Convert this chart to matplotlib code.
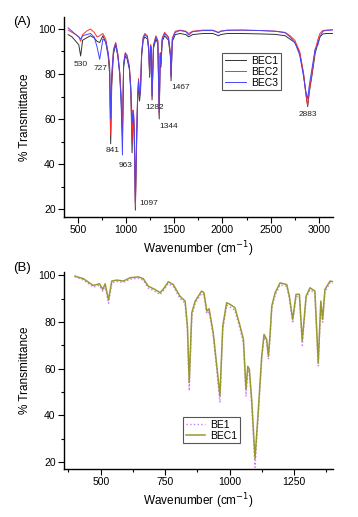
import matplotlib
matplotlib.use("Agg")
import matplotlib.pyplot as plt
from matplotlib.ticker import MultipleLocator

plt.rcParams["font.family"] = ["Liberation Sans", "DejaVu Sans"]

# ---- panel (A): FTIR spectra of BEC1 / BEC2 / BEC3 ----
wn_a = [400, 440, 480, 510, 530, 550, 590, 630, 670, 700, 727, 760, 790, 815, 830,
        841, 852, 870, 893, 915, 935, 950, 963, 975, 992, 1010, 1035, 1050, 1063,
        1072, 1080, 1088, 1097, 1108, 1120, 1130, 1140, 1150, 1162, 1178, 1195, 1222,
        1235, 1245, 1255, 1262, 1270, 1285, 1310, 1330, 1344, 1355, 1362, 1375, 1400,
        1440, 1460, 1467, 1480, 1510, 1560, 1620, 1650, 1690, 1800, 1900, 1960, 1980,
        2050, 2200, 2400, 2550, 2650, 2700, 2750, 2800, 2840, 2865, 2883, 2900, 2930,
        2960, 2990, 3010, 3040, 3080, 3140]
bec1_a = [97.5, 96.5, 94.5, 93.0, 88.0, 95.0, 96.0, 97.0, 96.0, 94.5, 94.0, 97.0, 94.0, 88.0, 80.0,
          49.0, 75.0, 89.0, 93.0, 88.0, 80.0, 68.0, 52.0, 83.0, 88.0, 87.0, 82.0, 72.0, 45.0,
          62.0, 60.0, 45.0, 19.5, 45.0, 68.0, 76.0, 68.0, 72.0, 88.0, 95.0, 96.5, 95.5,
          90.5, 78.5, 91.5, 90.5, 68.5, 91.5, 95.5, 93.5, 60.0, 88.0, 83.0, 94.5, 97.0,
          95.0, 88.0, 77.0, 94.5, 97.5, 98.0, 97.5, 96.5, 97.5, 98.0, 98.0, 97.0, 97.5,
          98.0, 98.0, 97.8, 97.6, 97.0, 95.5, 94.0, 89.5, 80.0, 71.0, 65.5, 72.0, 80.0,
          89.0, 94.0, 96.5, 97.8, 98.0, 98.0]
bec2_a = [99.5, 98.5, 97.5, 96.5, 94.5, 97.5, 99.0, 100.0, 98.5, 96.5, 97.0, 98.0, 95.5, 89.0, 82.0,
          53.0, 78.0, 91.0, 94.0, 89.0, 81.0, 70.0, 55.0, 85.0, 89.5, 88.5, 83.5, 74.0, 50.0,
          64.0, 62.0, 48.0, 21.0, 47.0, 70.0, 78.0, 70.0, 74.0, 89.5, 96.5, 98.0, 97.0,
          92.0, 80.0, 93.0, 92.0, 70.0, 93.0, 97.0, 95.0, 62.0, 89.5, 85.0, 96.0, 98.5,
          96.5, 89.5, 79.0, 96.0, 99.0, 99.5, 99.0, 98.0, 99.0, 99.5, 99.5, 98.5, 99.0,
          99.5, 99.5, 99.3, 99.0, 98.5, 97.0, 95.0, 90.0, 80.5, 71.0, 66.0, 72.5, 81.0,
          90.5, 95.5, 98.0, 99.3, 99.5, 99.6]
bec3_a = [100.5, 99.0, 97.5, 96.5, 95.5, 97.0, 97.5, 98.0, 96.5, 92.0, 86.5, 95.5, 94.5, 89.5, 84.0,
          60.0, 80.0, 90.0, 93.5, 88.5, 80.0, 66.0, 44.0, 84.0, 89.0, 88.0, 83.0, 73.0, 58.0,
          63.0, 61.0, 50.0, 23.0, 50.0, 70.0, 77.0, 70.0, 73.0, 89.0, 96.0, 97.5, 96.5,
          91.5, 79.5, 92.5, 91.5, 70.5, 92.5, 96.5, 94.5, 63.0, 89.0, 84.5, 95.5, 98.0,
          96.0, 89.0, 79.0, 95.5, 98.5, 99.3, 98.8, 97.3, 98.8, 99.3, 99.3, 98.3, 99.0,
          99.4, 99.5, 99.3, 99.0, 98.3, 96.5, 94.0, 88.5, 79.0, 72.0, 69.0, 75.0, 83.0,
          91.0, 93.0, 96.5, 99.0, 99.4, 99.6]

peak_labels = ["530", "727", "841", "963", "1097", "1282", "1344", "1467", "2883"]
peak_x = [527, 739, 858, 993, 1239, 1294, 1439, 1571, 2890]
peak_y = [84.3, 82.5, 45.9, 39.2, 22.5, 65.0, 56.6, 73.9, 61.8]

# ---- panel (B): BE1 vs BEC1 ----
wn_b = [400, 433, 471, 495, 508, 517, 530, 543, 562, 588, 614, 646, 665, 684, 710,
        730, 745, 762, 781, 807, 827, 836, 843, 853, 866, 891, 900, 911, 920, 936,
        950, 962, 973, 988, 1001, 1020, 1040, 1053, 1059, 1063, 1070, 1076, 1085,
        1098, 1111, 1124, 1133, 1143, 1150, 1156, 1163, 1176, 1195, 1221, 1231, 1244,
        1257, 1270, 1281, 1296, 1311, 1330, 1343, 1353, 1360, 1369, 1389, 1400]
bec1_b = [99.7, 98.6, 95.7, 96.4, 94.0, 96.4, 89.5, 97.6, 98.0, 97.6, 99.0, 99.4, 98.6, 95.4, 94.0,
          92.6, 94.5, 97.3, 96.1, 91.1, 89.0, 78.3, 54.0, 84.0, 89.0, 93.3, 92.6, 84.7, 85.7, 75.4,
          61.0, 48.3, 78.3, 88.3, 87.6, 86.2, 78.3, 72.6, 59.7, 51.1, 61.0, 59.7, 46.9,
          21.4, 42.6, 65.4, 74.7, 72.6, 65.4, 74.0, 86.9, 92.6, 96.8, 96.1, 91.1, 81.1,
          91.9, 91.9, 71.9, 91.1, 94.7, 93.3, 62.6, 89.0, 81.1, 94.0, 97.6, 97.3]
be1_b = [99.5, 98.0, 95.0, 95.7, 93.2, 95.7, 88.0, 96.8, 97.4, 97.0, 98.4, 98.8, 97.9, 94.6, 93.2,
         91.8, 93.7, 96.5, 95.3, 90.2, 88.0, 76.5, 50.5, 82.5, 88.0, 92.3, 91.6, 83.5, 84.5, 74.0,
         59.0, 45.4, 76.5, 87.2, 86.5, 85.0, 77.0, 71.0, 57.5, 48.0, 59.5, 58.0, 44.5,
         17.7, 40.5, 64.0, 73.5, 71.4, 64.0, 73.0, 85.8, 91.6, 95.9, 95.3, 90.2, 79.5,
         90.9, 91.0, 70.0, 90.2, 93.8, 92.4, 61.0, 88.0, 80.0, 93.0, 96.9, 96.6]


def style_axes(ax):
    for side in ("top", "right"):
        ax.spines[side].set_visible(False)
    for side in ("left", "bottom"):
        ax.spines[side].set_linewidth(1.0)
    ax.tick_params(which="major", direction="out", length=4, width=0.8, labelsize=7.5, pad=2)
    ax.tick_params(which="minor", direction="out", length=2.5, width=0.8)
    ax.yaxis.set_major_locator(MultipleLocator(20))
    ax.yaxis.set_minor_locator(MultipleLocator(10))
    ax.set_xlabel("Wavenumber (cm$^{-1}$)", fontsize=8.5, labelpad=3)
    ax.set_ylabel("% Transmittance", fontsize=8.5, labelpad=5)


fig = plt.figure(figsize=(3.58, 5.17), dpi=100)

# panel A
ax1 = fig.add_axes([0.179, 0.580, 0.751, 0.387])
ax1.plot(wn_a, bec1_a, color="#333333", lw=0.7, label="BEC1")
ax1.plot(wn_a, bec2_a, color="#ff3030", lw=0.7, label="BEC2")
ax1.plot(wn_a, bec3_a, color="#4646ff", lw=0.7, label="BEC3")
for lab, x, y in zip(peak_labels, peak_x, peak_y):
    ax1.text(x, y, lab, fontsize=6, ha="center", va="center", color="#222222")
ax1.set_xlim(358, 3145)
ax1.set_ylim(16.4, 105.3)
ax1.xaxis.set_major_locator(MultipleLocator(500))
ax1.xaxis.set_minor_locator(MultipleLocator(250))
style_axes(ax1)
leg1 = ax1.legend(loc="upper left", bbox_to_anchor=(0.587, 0.82), fontsize=7.5,
                  fancybox=False, edgecolor="#555555", framealpha=1, borderpad=0.25,
                  labelspacing=0.1, handlelength=2.1, handletextpad=0.5, borderaxespad=0)
leg1.get_frame().set_linewidth(0.8)
fig.text(0.062, 0.958, "(A)", fontsize=9.5, ha="center", va="center")

# panel B
ax2 = fig.add_axes([0.179, 0.093, 0.751, 0.381])
ax2.plot(wn_b, be1_b, color="#cc77ff", lw=1.0, ls=":", label="BE1")
ax2.plot(wn_b, bec1_b, color="#999932", lw=1.1, label="BEC1")
ax2.set_xlim(358, 1400)
ax2.set_ylim(17.0, 101.5)
ax2.xaxis.set_major_locator(MultipleLocator(250))
ax2.xaxis.set_minor_locator(MultipleLocator(125))
style_axes(ax2)
leg2 = ax2.legend(loc="upper left", bbox_to_anchor=(0.442, 0.264), fontsize=7.5,
                  fancybox=False, edgecolor="#555555", framealpha=1, borderpad=0.25,
                  labelspacing=0.1, handlelength=1.9, handletextpad=0.5, borderaxespad=0)
leg2.get_frame().set_linewidth(0.8)
fig.text(0.062, 0.482, "(B)", fontsize=9.5, ha="center", va="center")

fig.savefig("out.png", dpi=100)
